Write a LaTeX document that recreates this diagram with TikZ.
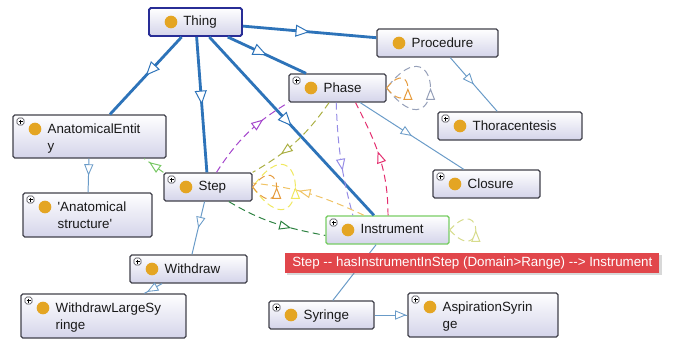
\documentclass[tikz,border=0pt]{standalone}
\usepackage{fontspec}
\newfontfamily\owlfont{Liberation Sans}[Ligatures=TeXOff]
\usepackage{tikz}
\usetikzlibrary{arrows.meta, decorations.markings, fit, shadows}

\definecolor{boxline}{RGB}{65,65,75}
\definecolor{boxbot}{RGB}{212,212,234}
\definecolor{dotc}{RGB}{228,165,35}
\definecolor{thingblue}{RGB}{40,45,150}
\definecolor{instgreen}{RGB}{120,205,100}
\definecolor{isablue}{RGB}{45,115,185}
\definecolor{subblue}{RGB}{105,155,200}
\definecolor{tipred}{RGB}{225,70,75}
\definecolor{propviolet}{RGB}{165,70,205}
\definecolor{propolive}{RGB}{170,175,65}
\definecolor{proplilac}{RGB}{150,140,230}
\definecolor{proppink}{RGB}{228,45,110}
\definecolor{propgreen}{RGB}{45,130,65}
\definecolor{propsand}{RGB}{240,195,100}
\definecolor{proplime}{RGB}{120,200,100}
\definecolor{loopgray}{RGB}{150,160,185}
\definecolor{looporange}{RGB}{230,155,60}
\definecolor{loopyellow}{RGB}{240,232,95}
\definecolor{looppale}{RGB}{215,220,140}

\tikzset{
  clsbox/.style={draw=boxline, line width=0.9pt, rounded corners=1.2pt,
    top color=white, bottom color=boxbot, inner sep=0pt,
    path picture={
      \fill[dotc] ([shift={(22,14)}]path picture bounding box.north west) circle (4.5pt);
    }},
  clsplus/.style={clsbox,
    path picture={
      \fill[dotc] ([shift={(22,14)}]path picture bounding box.north west) circle (4.5pt);
      \draw[boxline, line width=0.4pt, fill=white] ([shift={(4,3)}]path picture bounding box.north west) rectangle +(7,7);
      \draw[black, line width=0.5pt] ([shift={(5.5,6.5)}]path picture bounding box.north west) -- +(4,0);
      \draw[black, line width=0.5pt] ([shift={(7.5,4.5)}]path picture bounding box.north west) -- +(0,4);
    }},
  thingbox/.style={clsbox, draw=thingblue, line width=1.4pt},
  instbox/.style={clsplus, draw=instgreen, line width=1pt},
  clstext/.style={anchor=north west, inner sep=0pt, align=left, text=black!90,
    font=\owlfont\fontsize{9.5}{12}\selectfont},
  isa/.style={draw=isablue, line width=2pt, postaction={decorate},
    decoration={markings, mark=at position 0.5 with
      {\arrow{Triangle[open, fill=white, length=10pt, width=8.5pt, line width=0.7pt, color=isablue]}}}},
  sub/.style={draw=subblue, line width=0.7pt, postaction={decorate},
    decoration={markings, mark=at position #1 with
      {\arrow{Triangle[open, fill=white, length=8pt, width=6.5pt, line width=0.6pt, color=subblue]}}}},
  sub/.default=0.5,
  prop/.style 2 args={draw=#1, line width=0.7pt, dash pattern=on 5pt off 3pt,
    postaction={decorate},
    decoration={markings, mark=at position #2 with
      {\arrow{Triangle[open, fill=white, length=8.5pt, width=6.5pt, line width=0.7pt, color=#1]}}}},
  tipbox/.style={fill=tipred, text=white, inner xsep=5pt, inner ysep=0pt,
    minimum height=14.2pt, font=\owlfont\fontsize{9.5}{12}\selectfont,
    drop shadow={shadow xshift=1.5pt, shadow yshift=-1.5pt, opacity=0.3}}
}

\begin{document}
\begin{tikzpicture}[x=0.025cm, y=-0.025cm]
\useasboundingbox[fill=white] (0,0) rectangle (678,342);

% Nodes
\node[thingbox, fit={(149,8) (242,36)}] (thing) {};
\node[clstext] (thing-t) at ([shift={(35,9)}]thing.north west) {Thing};
\node[clsbox, fit={(377,29) (498,57)}] (proc) {};
\node[clstext] (proc-t) at ([shift={(35,9)}]proc.north west) {Procedure};
\node[clsplus, fit={(289,74) (386,102)}] (phase) {};
\node[clstext] (phase-t) at ([shift={(35,9)}]phase.north west) {Phase};
\node[clsplus, fit={(13,115) (166,158)}] (anat) {};
\node[clstext] (anat-t) at ([shift={(35,9)}]anat.north west) {AnatomicalEntit\\y};
\node[clsplus, fit={(438,112) (582,140)}] (thor) {};
\node[clstext] (thor-t) at ([shift={(35,9)}]thor.north west) {Thoracentesis};
\node[clsplus, fit={(164,173) (252,201)}] (step) {};
\node[clstext] (step-t) at ([shift={(35,9)}]step.north west) {Step};
\node[clsplus, fit={(433,170) (540,198)}] (closure) {};
\node[clstext] (closure-t) at ([shift={(35,9)}]closure.north west) {Closure};
\node[clsplus, fit={(23,193) (152,237)}] (anatstr) {};
\node[clstext] (anatstr-t) at ([shift={(35,9)}]anatstr.north west) {'Anatomical\\structure'};
\node[instbox, fit={(326,216) (449,244)}] (instr) {};
\node[clstext] (instr-t) at ([shift={(35,9)}]instr.north west) {Instrument};
\node[clsplus, fit={(130,255) (247,283)}] (withdraw) {};
\node[clstext] (withdraw-t) at ([shift={(35,9)}]withdraw.north west) {Withdraw};
\node[clsplus, fit={(21,294) (186,338)}] (wls) {};
\node[clstext] (wls-t) at ([shift={(35,9)}]wls.north west) {WithdrawLargeSy\\ringe};
\node[clsplus, fit={(269,301) (374,329)}] (syringe) {};
\node[clstext] (syringe-t) at ([shift={(35,9)}]syringe.north west) {Syringe};
\node[clsplus, fit={(408,293) (558,337)}] (asp) {};
\node[clstext] (asp-t) at ([shift={(35,9)}]asp.north west) {AspirationSyrin\\ge};

% Subclass edges
\draw[isa] (thing) -- (anat);
\draw[isa] (thing) -- (step);
\draw[isa] (thing) -- (instr);
\draw[isa] (thing) -- (phase);
\draw[isa] (thing) -- (proc);
\draw[sub] (proc) -- (thor);
\draw[sub] (phase) -- (closure);
\draw[sub] (anat) -- (anatstr);
\draw[sub] (step) -- (withdraw);
\draw[sub=0.85] (withdraw) -- (wls);
\draw[sub=0.4] (instr) -- (syringe);
\draw[sub=0.97] (syringe) -- (asp);

% Property edges
\draw[prop={propviolet}{0.7}] (step.60) to[out=57, in=211] (phase.south west);
\draw[prop={propolive}{0.68}] (phase.240) to[out=235, in=30] (step.north east);
\draw[prop={proplilac}{0.6}] (phase.-95) to[out=272, in=105] (instr.157);
\draw[prop={proppink}{0.55}] (instr.88) to[out=90, in=-63] (phase.-39);
\draw[prop={propgreen}{0.66}] (step.-35) to[out=-31, in=169] (instr.185);
\draw[prop={propsand}{0.6}] (instr.148) to[out=155, in=-6] (step.5);
\draw[prop={proplime}{0.75}] (step.north west) -- (anat.-22);

% Self loops
\draw[prop={loopgray}{0.5}] (phase.east) .. controls +(52:95) and +(-52:95) .. (phase.east);
\draw[prop={looporange}{0.5}] (phase.east) .. controls +(51:45) and +(-51:45) .. (phase.east);
\draw[prop={loopyellow}{0.5}] (step.east) .. controls +(54:97) and +(-54:97) .. (step.east);
\draw[prop={looporange}{0.5}] (step.east) .. controls +(52:52) and +(-52:52) .. (step.east);
\draw[prop={looppale}{0.5}] (instr.east) .. controls +(48:52) and +(-48:52) .. (instr.east);

% Tooltip
\node[tipbox, anchor=north west] (tip) at (285,253)
  {Step -{}- hasInstrumentInStep (Domain>Range) -{}-> Instrument};
\end{tikzpicture}
\end{document}
